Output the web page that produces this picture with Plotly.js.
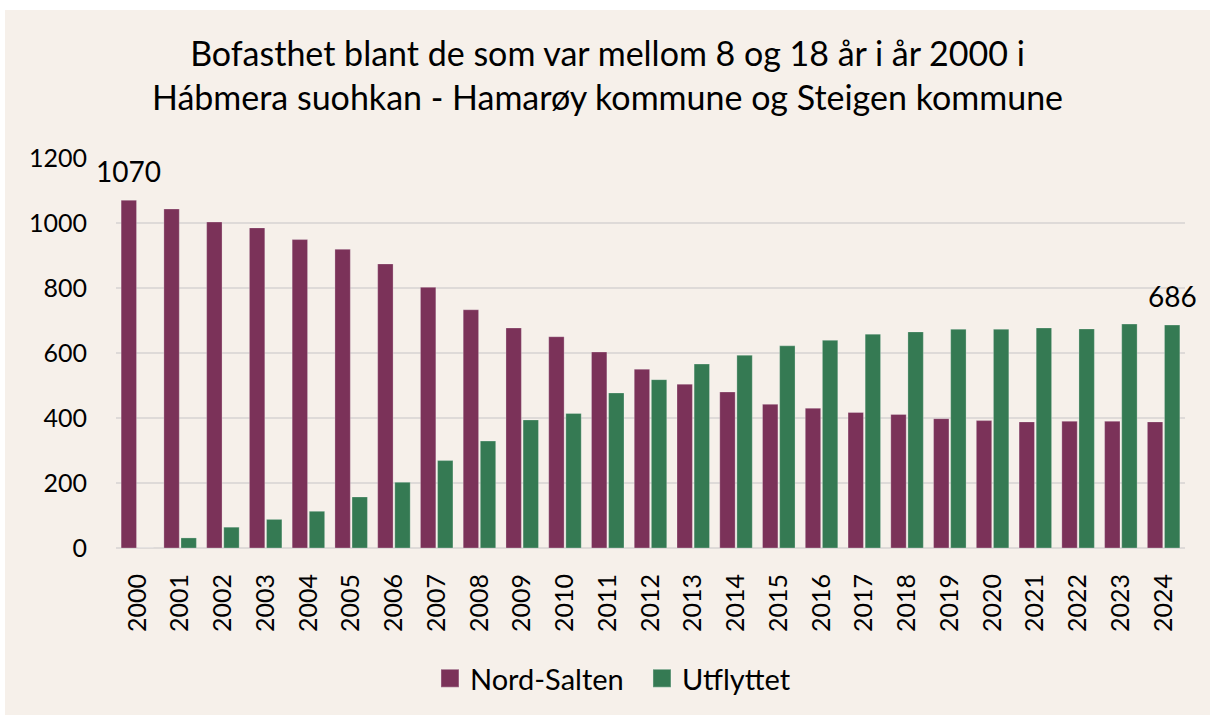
<!DOCTYPE html>
<html>
<head>
<meta charset="utf-8">
<script src="https://cdn.plot.ly/plotly-3.0.1.min.js"></script>
<style>
html,body{margin:0;padding:0;background:#ffffff;}
#chart{position:absolute;left:5px;top:10px;width:1205px;height:705px;}
</style>
</head>
<body>
<div id="chart"></div>
<script>
const years = ['2000','2001','2002','2003','2004','2005','2006','2007','2008','2009','2010','2011','2012','2013','2014','2015','2016','2017','2018','2019','2020','2021','2022','2023','2024'];
const nordSalten = [1070,1043,1003,985,949,919,874,802,733,677,650,603,550,504,480,442,430,417,411,398,392,388,390,390,388];
const utflyttet = [0,31,64,88,113,157,202,269,329,394,414,477,518,566,593,622,639,658,665,673,673,677,674,689,686];
const seriesNames = ['Nord-Salten','Utflyttet'];
const titleLines = ['Bofasthet blant de som var mellom 8 og 18 år i år 2000 i','Hábmera suohkan - Hamarøy kommune og Steigen kommune'];

const FONT = 'Lato, "Open Sans", sans-serif';
const purple = '#7b3259';
const green = '#357a53';

const traces = [
  {type:'bar', name:seriesNames[0], x:years, y:nordSalten,
   marker:{color:purple, line:{color:'rgba(255,255,255,0.25)', width:1}}},
  {type:'bar', name:seriesNames[1], x:years, y:utflyttet,
   marker:{color:green, line:{color:'rgba(255,255,255,0.25)', width:1}}}
];

const last = years.length - 1;
const layout = {
  width:1205, height:705,
  paper_bgcolor:'#f6f0ea', plot_bgcolor:'#f6f0ea',
  font:{family:FONT, color:'#000000', size:25},
  margin:{l:111, r:25, t:148, b:166},
  title:{text:titleLines.join('<br>'), font:{family:FONT, size:34, color:'#000'},
         x:0.5, xanchor:'center', y:0.921, yanchor:'middle'},
  barmode:'group', bargap:0.2, bargroupgap:0.1,
  xaxis:{type:'category', range:[-0.5, years.length-0.5], autorange:false,
         tickangle:-90, showgrid:false, showline:false, zeroline:false,
         ticks:'', ticklabelstandoff:20, tickfont:{family:FONT, size:25, color:'#000'}},
  yaxis:{range:[0,1200], autorange:false, dtick:200, showgrid:true, gridcolor:'#dedad8', gridwidth:1.5,
         zeroline:true, zerolinecolor:'#dedad8', zerolinewidth:1.5, showline:false, ticks:'',
         ticklabelstandoff:28, tickfont:{family:FONT, size:25, color:'#000'}},
  legend:{orientation:'h', x:0.2937, xanchor:'left', y:-0.331, yanchor:'middle',
          entrywidth:167, entrywidthmode:'pixels',
          font:{family:FONT, size:29, color:'#000'}, bgcolor:'rgba(0,0,0,0)'},
  showlegend:true,
  annotations:[
    {xref:'x', yref:'y', x:0, y:nordSalten[0], text:String(nordSalten[0]),
     showarrow:false, xshift:-9, yanchor:'bottom', yshift:10, font:{family:FONT,size:28,color:'#000'}},
    {xref:'x', yref:'y', x:last, y:utflyttet[last], text:String(utflyttet[last]),
     showarrow:false, xshift:9, yanchor:'bottom', yshift:10, font:{family:FONT,size:28,color:'#000'}}
  ]
};
Plotly.newPlot('chart', traces, layout, {displayModeBar:false, staticPlot:true}).then(function(gd){
  gd.querySelectorAll('.legend .legendpoints path').forEach(function(p){
    const t = p.getAttribute('transform') || '';
    p.setAttribute('transform', t + ' scale(1.5)');
  });
});
</script>
</body>
</html>
